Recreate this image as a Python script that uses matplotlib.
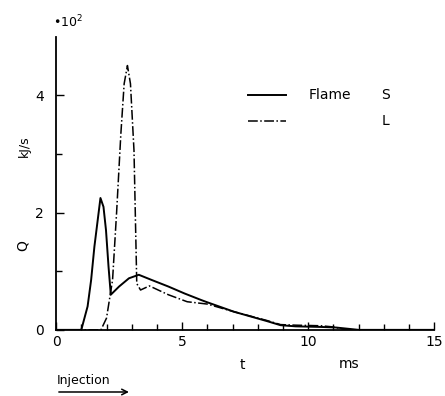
''' heat release rate Q over time for flame S and flame L '''

import matplotlib
matplotlib.use('Agg')
import matplotlib.pyplot as plt

# flame S (solid), Q in 10^2 kJ/s
t_s = [0, 1.0, 1.25, 1.39, 1.52, 1.65, 1.76, 1.88, 1.98, 2.08, 2.17, 2.5, 2.89,
       3.28, 3.8, 4.45, 5.1, 5.75, 6.0, 7.05, 8.36, 8.9, 9.5, 10.5, 11.1, 12.0, 15]
q_s = [0, 0, 0.4, 0.85, 1.42, 1.87, 2.25, 2.1, 1.7, 1.08, 0.6, 0.74, 0.88,
       0.94, 0.85, 0.74, 0.62, 0.51, 0.47, 0.31, 0.15, 0.08, 0.06, 0.05, 0.04, 0, 0]

# flame L (dash-dot)
t_l = [0, 1.78, 2.0, 2.24, 2.4, 2.57, 2.7, 2.83, 2.95, 3.09, 3.2, 3.35, 3.7,
       4.45, 5.2, 6.0, 7.05, 8.36, 8.9, 9.5, 10.5, 11.0, 11.5, 15]
q_l = [0, 0, 0.2, 0.85, 2.0, 3.35, 4.2, 4.51, 4.2, 3.06, 0.79, 0.68, 0.75,
       0.6, 0.48, 0.44, 0.31, 0.16, 0.09, 0.08, 0.07, 0.05, 0, 0]

x_major = [0, 5, 10, 15]
x_minor = [1, 2, 3, 4, 6, 7, 8, 9, 11, 12, 13, 14]
y_major = [0, 2, 4]
y_minor = [1, 3]

fig = plt.figure(figsize=(4.45, 3.96), dpi=100)
ax = fig.add_axes([0.126, 0.167, 0.85, 0.74])

ax.plot(t_s, q_s, color='black', linewidth=1.4, label='Flame  S')
ax.plot(t_l, q_l, color='black', linewidth=1.1, linestyle='-.', label='L')

ax.set_xlim(0, 15)
ax.set_ylim(0, 5)
ax.spines['top'].set_visible(False)
ax.spines['right'].set_visible(False)
ax.spines['left'].set_linewidth(1.3)
ax.spines['bottom'].set_linewidth(1.3)

ax.set_xticks(x_major)
ax.set_xticks(x_minor, minor=True)
ax.set_yticks(y_major)
ax.set_yticks(y_minor, minor=True)
ax.tick_params(direction='in', length=6, width=1, labelsize=10, pad=4)
ax.tick_params(which='minor', direction='in', length=4, width=1)
ax.tick_params(axis='y', pad=9)

# legend drawn by hand
lx = [7.6, 9.1]
ax.plot(lx, [4.0, 4.0], color='black', linewidth=1.4)
ax.plot(lx, [3.57, 3.57], color='black', linewidth=1.1, linestyle='-.')
ax.text(10.0, 4.0, 'Flame', fontsize=10, va='center')
ax.text(12.9, 4.0, 'S', fontsize=10, va='center')
ax.text(12.9, 3.57, 'L', fontsize=10, va='center')

# axis labels
fig.text(0.052, 0.38, 'Q', rotation=90, fontsize=10, ha='center', va='center')
fig.text(0.055, 0.63, 'kJ/s', rotation=90, fontsize=9, ha='center', va='center')
fig.text(0.118, 0.945, '\u2022$10^2$', fontsize=9, ha='left', va='center')
fig.text(0.545, 0.078, 't', fontsize=10, ha='center', va='center')
fig.text(0.785, 0.08, 'ms', fontsize=10, ha='center', va='center')

# injection period
fig.text(0.128, 0.04, 'Injection', fontsize=9, ha='left', va='center')
ax.annotate('', xy=(3.0, -1.06), xytext=(0, -1.06), xycoords='data',
            annotation_clip=False,
            arrowprops=dict(arrowstyle='->', color='black', lw=1.1))

plt.savefig('out.png', dpi=100)
